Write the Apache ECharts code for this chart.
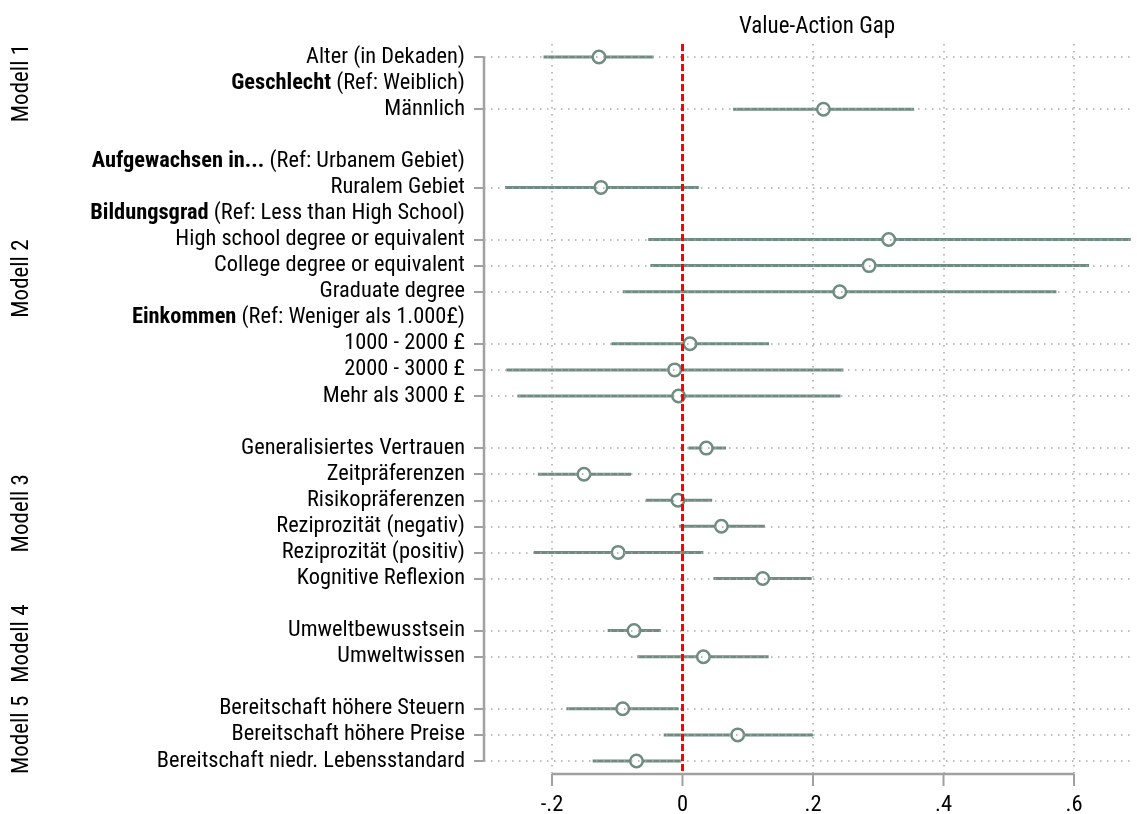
<!DOCTYPE html>
<html>
<head>
<meta charset="utf-8">
<title>Value-Action Gap</title>
<script src="https://cdn.jsdelivr.net/npm/echarts@6/dist/echarts.min.js"></script>
<style>
  html, body { margin: 0; padding: 0; background: #fff; }
  #chart { width: 1137px; height: 814px; }
</style>
</head>
<body>
<div id="chart"></div>
<script>
// Row labels, top to bottom. "Bold|rest" marks a group header (no estimate).
const rowLabels = [
  'Alter (in Dekaden)',
  'Geschlecht| (Ref: Weiblich)',
  'Männlich',
  '',
  'Aufgewachsen in...| (Ref: Urbanem Gebiet)',
  'Ruralem Gebiet',
  'Bildungsgrad| (Ref: Less than High School)',
  'High school degree or equivalent',
  'College degree or equivalent',
  'Graduate degree',
  'Einkommen| (Ref: Weniger als 1.000£)',
  '1000 - 2000 £',
  '2000 - 3000 £',
  'Mehr als 3000 £',
  '',
  'Generalisiertes Vertrauen',
  'Zeitpräferenzen',
  'Risikopräferenzen',
  'Reziprozität (negativ)',
  'Reziprozität (positiv)',
  'Kognitive Reflexion',
  '',
  'Umweltbewusstsein',
  'Umweltwissen',
  '',
  'Bereitschaft höhere Steuern',
  'Bereitschaft höhere Preise',
  'Bereitschaft niedr. Lebensstandard'
];

// Point estimates and 95% confidence bounds per row (null = header / spacer)
const estimates = [
  -0.128, null, 0.216, null, null, -0.125, null, 0.316, 0.286, 0.241,
  null, 0.0115, -0.012, -0.006, null, 0.0365, -0.151, -0.007, 0.0596, -0.0986,
  0.123, null, -0.0743, 0.032, null, -0.0916, 0.0846, -0.0705
];
const ciLow = [
  -0.213, null, 0.0775, null, null, -0.272, null, -0.0525, -0.0493, -0.0916,
  null, -0.109, -0.270, -0.253, null, 0.009, -0.2216, -0.0564, -0.0051, -0.228,
  0.0474, null, -0.1147, -0.0692, null, -0.178, -0.0288, -0.1377
];
const ciHigh = [
  -0.0442, null, 0.355, null, null, 0.025, null, 0.687, 0.623, 0.573,
  null, 0.1326, 0.2466, 0.2421, null, 0.0666, -0.0788, 0.0455, 0.1262, 0.032,
  0.198, null, -0.0333, 0.132, null, -0.0058, 0.1999, -0.0019
];

// Model groups and the rows they span
const models = ['Modell 1', 'Modell 2', 'Modell 3', 'Modell 4', 'Modell 5'];
const modelFirstRow = [0, 4, 15, 22, 25];
const modelLastRow = [2, 13, 20, 23, 27];

// x axis ticks
const xTicks = [-0.2, 0, 0.2, 0.4, 0.6];
const xMin = -0.3042;
const xMax = 0.6904;

const FONT = "'Liberation Sans Narrow', 'Arial Narrow', 'Roboto Condensed', sans-serif";
const CI_COLOR = '#6f8c80';
const AXIS_COLOR = '#a0a0a0';
const GRID_COLOR = '#a8a8a8';

const nRows = rowLabels.length;
const yTop = -0.5;                 // top edge of the plot region
const yBottom = nRows - 0.5;       // where the x axis line sits
const yExtent = yBottom + 0.7;     // room below the axis for its ticks
const allRows = rowLabels.map((_, i) => i);
const estRows = allRows.filter(i => estimates[i] !== null);
const textRows = allRows.filter(i => rowLabels[i] !== '');
const modelCenters = models.map((_, k) => (modelFirstRow[k] + modelLastRow[k]) / 2);

function rowText(v) {
  const s = rowLabels[Math.round(v)] || '';
  const p = s.indexOf('|');
  if (p < 0) return s;
  return '{b|' + s.slice(0, p) + '}' + s.slice(p + 1);
}

function fmtX(v) {
  if (Math.abs(v) < 1e-9) return '0';
  const s = Math.abs(v).toFixed(1).replace(/^0/, '');
  return (v < 0 ? '-' : '') + s;
}

// Stata-style x axis: a line over the tick range with downward ticks
function renderXAxis(params, api) {
  const a = api.coord([xTicks[0], yBottom]);
  const b = api.coord([xTicks[xTicks.length - 1], yBottom]);
  const children = [{
    type: 'line',
    shape: { x1: a[0], y1: a[1], x2: b[0], y2: b[1] },
    style: { stroke: AXIS_COLOR, lineWidth: 2.5 }
  }];
  xTicks.forEach(v => {
    const p = api.coord([v, yBottom]);
    children.push({
      type: 'line',
      shape: { x1: p[0], y1: p[1], x2: p[0], y2: p[1] + 12 },
      style: { stroke: AXIS_COLOR, lineWidth: 2 }
    });
  });
  return { type: 'group', children: children };
}

const chart = echarts.init(document.getElementById('chart'), null, { renderer: 'canvas' });

const option = {
  animation: false,
  backgroundColor: '#fff',
  textStyle: { fontFamily: FONT },
  title: {
    text: 'Value-Action Gap',
    left: 812,
    top: 11,
    textAlign: 'center',
    textStyle: { fontFamily: FONT, fontSize: 23, fontWeight: 'normal', color: '#000' }
  },
  grid: {
    left: 484, right: 4, top: 44, bottom: 21.75,
    containLabel: false, outerBoundsMode: 'none'
  },
  xAxis: {
    type: 'value',
    min: xMin,
    max: xMax,
    position: 'bottom',
    axisLine: { show: false, onZero: false },
    splitLine: { show: false },
    axisTick: { show: false },
    axisLabel: {
      customValues: xTicks, formatter: fmtX, margin: 2,
      fontFamily: FONT, fontSize: 22.5, color: '#000'
    }
  },
  yAxis: [
    {
      type: 'value',
      inverse: true,
      min: yTop,
      max: yExtent,
      axisLine: { show: false, onZero: false },
      splitLine: { show: false },
      axisTick: {
        show: true, customValues: estRows, length: 10,
        lineStyle: { color: AXIS_COLOR, width: 2 }
      },
      axisLabel: {
        customValues: textRows, formatter: rowText, margin: 19,
        fontFamily: FONT, fontSize: 22.4, color: '#000',
        rich: { b: { fontFamily: FONT, fontSize: 22.4, fontWeight: 'bold', color: '#000' } }
      }
    },
    {
      type: 'value',
      inverse: true,
      min: yTop,
      max: yExtent,
      position: 'left',
      axisLine: { show: false, onZero: false },
      axisTick: { show: false },
      splitLine: { show: false },
      axisLabel: {
        customValues: modelCenters,
        formatter: v => models[modelCenters.indexOf(v)] || '',
        rotate: 90, margin: 450,
        fontFamily: FONT, fontSize: 23, color: '#000'
      }
    }
  ],
  series: [
    // dotted reference grid: vertical lines stop at the x axis
    {
      type: 'line', data: [], z: 1, silent: true,
      markLine: {
        silent: true, symbol: 'none', label: { show: false },
        lineStyle: { color: GRID_COLOR, width: 1.5, type: [1.5, 5.5] },
        data: xTicks.filter(v => v !== 0)
          .map(v => [{ coord: [v, yTop] }, { coord: [v, yBottom] }])
          .concat(estRows.map(r => ({ yAxis: r })))
      }
    },
    // y axis line over the rows
    {
      type: 'line', z: 2, silent: true, clip: false, symbol: 'none',
      lineStyle: { color: AXIS_COLOR, width: 2.5 },
      data: [[xMin, 0], [xMin, nRows - 1]]
    },
    // x axis line and ticks
    {
      type: 'custom', z: 2, silent: true, clip: false,
      data: [[xTicks[0], yBottom]],
      encode: { x: 0, y: 1 },
      renderItem: renderXAxis
    },
    // confidence intervals
    {
      type: 'custom', z: 3, silent: true,
      data: estRows.map(r => [ciLow[r], ciHigh[r], r]),
      encode: { x: [0, 1], y: 2 },
      renderItem: function (params, api) {
        const a = api.coord([api.value(0), api.value(2)]);
        const b = api.coord([api.value(1), api.value(2)]);
        return {
          type: 'line',
          shape: { x1: a[0], y1: a[1], x2: b[0], y2: b[1] },
          style: { stroke: CI_COLOR, lineWidth: 3 }
        };
      }
    },
    // point estimates
    {
      type: 'scatter', z: 4, silent: true,
      symbol: 'circle', symbolSize: 12.5,
      itemStyle: { color: '#fff', borderColor: CI_COLOR, borderWidth: 2.5, opacity: 1 },
      data: estRows.map(r => [estimates[r], r])
    },
    // zero line
    {
      type: 'line', data: [], z: 6, silent: true,
      markLine: {
        silent: true, symbol: 'none', label: { show: false },
        lineStyle: { color: '#ff0000', width: 3, type: [7, 3] },
        data: [[{ coord: [0, yTop] }, { coord: [0, yBottom] }]]
      }
    }
  ]
};

chart.setOption(option);
</script>
</body>
</html>
